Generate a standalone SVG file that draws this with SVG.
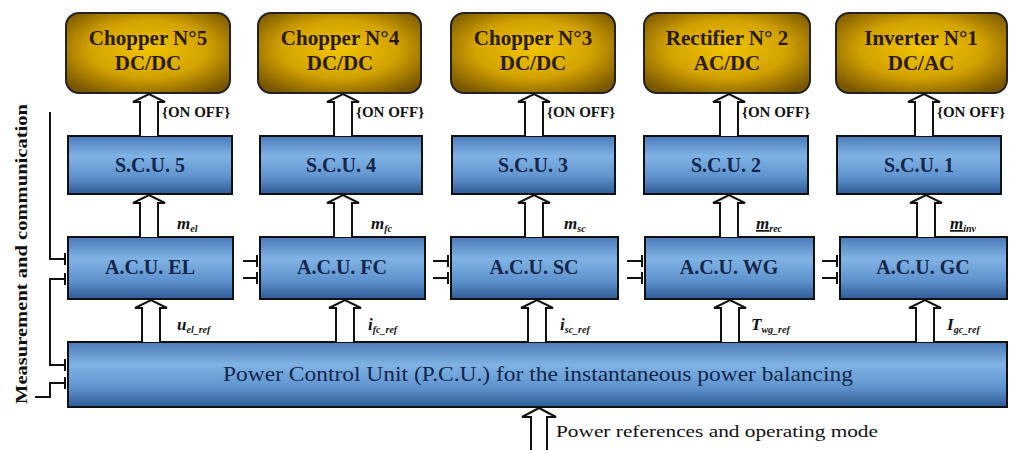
<svg xmlns="http://www.w3.org/2000/svg" width="1018" height="450" viewBox="0 0 1018 450">
<defs>
<radialGradient id="gold" cx="50%" cy="45%" r="65%">
<stop offset="0" stop-color="#F2C400"/>
<stop offset="0.55" stop-color="#D2A200"/>
<stop offset="1" stop-color="#7A5600"/>
</radialGradient>
<linearGradient id="blue" x1="0" y1="0" x2="0" y2="1">
<stop offset="0" stop-color="#4A7AB8"/>
<stop offset="0.35" stop-color="#80B3E4"/>
<stop offset="0.7" stop-color="#5F93CE"/>
<stop offset="1" stop-color="#2F5C96"/>
</linearGradient>
<style>
.gold{fill:url(#gold);stroke:#222;stroke-width:2}
.blue{fill:url(#blue);stroke:#111;stroke-width:2}
.gt{font-family:"Liberation Serif",serif;font-weight:bold;font-size:21px;fill:#2a1a00;text-anchor:middle}
.bt{font-family:"Liberation Serif",serif;font-weight:bold;font-size:20px;fill:#15264a;text-anchor:middle}
.pt{font-family:"Liberation Serif",serif;font-weight:normal;font-size:21px;fill:#15264a;text-anchor:middle}
.arr{fill:#fff;stroke:#111;stroke-width:2;stroke-linejoin:miter}
.ln{fill:none;stroke:#111;stroke-width:2}
.lab{font-family:"Liberation Serif",serif;font-weight:bold;font-size:15px;fill:#111}
.var{font-family:"Liberation Serif",serif;font-style:italic;font-weight:bold;font-size:17px;fill:#111}
.sub{font-size:10px}
</style>
</defs>

<g id="chopper5"><rect class="gold" x="66" y="13" width="164" height="80" rx="13"/><text class="gt" x="148" y="45">Chopper N°5</text><text class="gt" x="148" y="70">DC/DC</text></g>
<g id="chopper4"><rect class="gold" x="258" y="13" width="163" height="80" rx="13"/><text class="gt" x="340" y="45">Chopper N°4</text><text class="gt" x="340" y="70">DC/DC</text></g>
<g id="chopper3"><rect class="gold" x="451" y="13" width="164" height="80" rx="13"/><text class="gt" x="533" y="45">Chopper N°3</text><text class="gt" x="533" y="70">DC/DC</text></g>
<g id="rectifier2"><rect class="gold" x="644" y="13" width="166" height="80" rx="13"/><text class="gt" x="727" y="45">Rectifier N° 2</text><text class="gt" x="727" y="70">AC/DC</text></g>
<g id="inverter1"><rect class="gold" x="836" y="13" width="171" height="80" rx="13"/><text class="gt" x="921" y="45">Inverter N°1</text><text class="gt" x="921" y="70">DC/AC</text></g>

<g id="scu5"><rect class="blue" x="68" y="136" width="164" height="58"/><text class="bt" x="150" y="172">S.C.U. 5</text></g>
<g id="scu4"><rect class="blue" x="260" y="136" width="162" height="58"/><text class="bt" x="341" y="172">S.C.U. 4</text></g>
<g id="scu3"><rect class="blue" x="452" y="136" width="163" height="58"/><text class="bt" x="533" y="172">S.C.U. 3</text></g>
<g id="scu2"><rect class="blue" x="644" y="136" width="164" height="58"/><text class="bt" x="726" y="172">S.C.U. 2</text></g>
<g id="scu1"><rect class="blue" x="837" y="136" width="164" height="58"/><text class="bt" x="919" y="172">S.C.U. 1</text></g>

<g id="acu-el"><rect class="blue" x="68" y="237" width="165" height="62"/><text class="bt" x="150" y="274">A.C.U. EL</text></g>
<g id="acu-fc"><rect class="blue" x="260" y="237" width="165" height="62"/><text class="bt" x="342" y="274">A.C.U. FC</text></g>
<g id="acu-sc"><rect class="blue" x="451" y="237" width="167" height="62"/><text class="bt" x="534" y="274">A.C.U. SC</text></g>
<g id="acu-wg"><rect class="blue" x="645" y="237" width="169" height="62"/><text class="bt" x="729" y="274">A.C.U. WG</text></g>
<g id="acu-gc"><rect class="blue" x="840" y="237" width="167" height="62"/><text class="bt" x="923" y="274">A.C.U. GC</text></g>

<g id="pcu"><rect class="blue" x="68" y="342" width="939" height="65"/><text class="pt" x="538" y="381" textLength="630" lengthAdjust="spacingAndGlyphs">Power Control Unit (P.C.U.) for the instantaneous power balancing</text></g>

<g id="connectors">
<path class="arr" d="M140,136 V102 H133 L149,94 L165,102 H158 V136"/>
<path class="arr" d="M334,136 V102 H327 L343,94 L359,102 H352 V136"/>
<path class="arr" d="M525,136 V102 H518 L534,94 L550,102 H543 V136"/>
<path class="arr" d="M720,136 V102 H713 L729,94 L745,102 H738 V136"/>
<path class="arr" d="M915,136 V102 H908 L924,94 L940,102 H933 V136"/>
<path class="arr" d="M140,237 V203 H133 L149,195 L165,203 H158 V237"/>
<path class="arr" d="M334,237 V203 H327 L343,195 L359,203 H352 V237"/>
<path class="arr" d="M525,237 V203 H518 L534,195 L550,203 H543 V237"/>
<path class="arr" d="M720,237 V203 H713 L729,195 L745,203 H738 V237"/>
<path class="arr" d="M917,237 V203 H910 L926,195 L942,203 H935 V237"/>
<path class="arr" d="M142,342 V308 H135 L151,300 L167,308 H160 V342"/>
<path class="arr" d="M336,342 V308 H329 L345,300 L361,308 H354 V342"/>
<path class="arr" d="M528,342 V308 H521 L537,300 L553,308 H546 V342"/>
<path class="arr" d="M721,342 V308 H714 L730,300 L746,308 H739 V342"/>
<path class="arr" d="M916,342 V308 H909 L925,300 L941,308 H934 V342"/>
<path class="arr" d="M531,452 V417 H522 L539,408 L556,417 H547 V452"/>
<path class="ln" d="M243,261 H257 M257,255 V267 M243,278 H257 M257,272 V284"/>
<path class="ln" d="M433,261 H448 M448,255 V267 M433,278 H448 M448,272 V284"/>
<path class="ln" d="M627,261 H642 M642,255 V267 M627,278 H642 M642,272 V284"/>
<path class="ln" d="M822,261 H837 M837,255 V267 M822,278 H837 M837,272 V284"/>
<path class="ln" d="M50,112 V259 H65 M65,253 V265"/>
<path class="ln" d="M65,279 H50 V365 H65 M65,273 V285 M65,359 V371"/>
<path class="ln" d="M35,397 H50 V383 H65 M65,377 V389"/>
</g>

<g id="labels">
<text class="lab" x="162" y="117">{ON OFF}</text>
<text class="lab" x="356" y="117">{ON OFF}</text>
<text class="lab" x="547" y="117">{ON OFF}</text>
<text class="lab" x="742" y="117">{ON OFF}</text>
<text class="lab" x="937" y="117">{ON OFF}</text>
<text class="var" x="177" y="229">m<tspan class="sub" dy="3">el</tspan></text>
<text class="var" x="371" y="229">m<tspan class="sub" dy="3">fc</tspan></text>
<text class="var" x="564" y="229">m<tspan class="sub" dy="3">sc</tspan></text>
<text class="var" x="756" y="229"><tspan text-decoration="underline">m</tspan><tspan class="sub" dy="3">rec</tspan></text>
<text class="var" x="950" y="229"><tspan text-decoration="underline">m</tspan><tspan class="sub" dy="3">inv</tspan></text>
<text class="var" x="177" y="330">u<tspan class="sub" dy="3">el_ref</tspan></text>
<text class="var" x="368" y="330">i<tspan class="sub" dy="3">fc_ref</tspan></text>
<text class="var" x="560" y="330">i<tspan class="sub" dy="3">sc_ref</tspan></text>
<text class="var" x="751" y="330">T<tspan class="sub" dy="3">wg_ref</tspan></text>
<text class="var" x="947" y="330">I<tspan class="sub" dy="3">gc_ref</tspan></text>
<text x="556" y="437" font-family="Liberation Serif, serif" font-size="17" fill="#111" textLength="322" lengthAdjust="spacingAndGlyphs">Power references and operating mode</text>
<text transform="translate(27,254) rotate(-90)" text-anchor="middle" font-family="Liberation Serif, serif" font-weight="bold" font-size="16" fill="#111" textLength="300" lengthAdjust="spacingAndGlyphs">Measurement and communication</text>
</g>
</svg>
